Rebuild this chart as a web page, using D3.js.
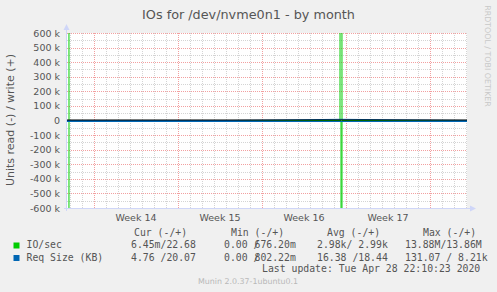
<!DOCTYPE html>
<html>
<head>
<meta charset="utf-8">
<script src="https://cdn.jsdelivr.net/npm/d3@7"></script>
<style>
body { margin: 0; background: #f0f0f0; }
text { font-family: "DejaVu Sans", sans-serif; fill: #555; }
.mono { font-family: "DejaVu Sans Mono", monospace; font-size: 9.8px; }
</style>
</head>
<body>
<script>
// numbers (2h samples, graph clipped at +/-600k)
var ioWriteTimes = ["2020-03-27 18:00", "2020-03-27 20:00", "2020-03-27 22:00", "2020-04-19 12:00", "2020-04-19 14:00", "2020-04-19 16:00", "2020-04-30 02:00"]
var ioWriteValues = [13860000, 13860000, 20, 20, 13860000, 20, 22.68]
var ioReadTimes = ["2020-03-27 18:00", "2020-03-27 20:00", "2020-03-27 22:00", "2020-04-19 14:00", "2020-04-19 15:00", "2020-04-19 16:00", "2020-04-30 02:00"]
var ioReadValues = [13880000, 13880000, 0.5, 0.5, 13880000, 0.5, 0.00645]
var reqTimes = ["2020-03-27 18:00", "2020-04-10 12:00", "2020-04-19 14:00", "2020-04-30 02:00"]
var reqWriteValues = [18, 18.4, 8210, 20.07]
var reqReadValues = [16, 16.4, 131, 4.76]

var yTicks = [-600000, -500000, -400000, -300000, -200000, -100000, 0, 100000, 200000, 300000, 400000, 500000, 600000]
var weekStarts = ["2020-03-30 00:00", "2020-04-06 00:00", "2020-04-13 00:00", "2020-04-20 00:00", "2020-04-27 00:00"]
var weekLabels = ["Week 14", "Week 15", "Week 16", "Week 17"]

var legendHead = ["Cur (-/+)", "Min (-/+)", "Avg (-/+)", "Max (-/+)"]
var legendNames = ["IO/sec", "Req Size (KB)"]
var legendColors = ["#00cc00", "#0066b3"]
var legendCur = ["6.45m/22.68", "4.76 /20.07"]
var legendMin = ["0.00 /", "0.00 /"]
var legendMin2 = ["676.20m", "802.22m"]
var legendAvg = ["2.98k/ 2.99k", "16.38 /18.44"]
var legendMax = ["13.88M/13.86M", "131.07 / 8.21k"]

var width = 497, height = 292
var pad = { left: 67, right: 467, top: 33, bottom: 208 }
var parse = d3.utcParse("%Y-%m-%d %H:%M")
var day = 864e5

var start = parse("2020-03-27 18:00")
var end = new Date(+start + 400 / 12 * day)

var x = d3.scaleUtc().domain([start, end]).range([pad.left, pad.right])
var y = d3.scaleLinear().domain([-600000, 600000]).range([pad.bottom, pad.top])

var svg = d3.select("body").append("svg")
    .attr("width", width).attr("height", height)

svg.append("rect").attr("width", width).attr("height", height).attr("fill", "#f0f0f0")
svg.append("rect")
    .attr("x", pad.left).attr("y", pad.top)
    .attr("width", pad.right - pad.left).attr("height", pad.bottom - pad.top)
    .attr("fill", "#fff")

svg.append("clipPath").attr("id", "clip")
   .append("rect")
   .attr("x", pad.left).attr("y", pad.top)
   .attr("width", pad.right - pad.left).attr("height", pad.bottom - pad.top)

// grid - minor every day / 50k, major every week / 100k
var days = d3.utcDay.range(d3.utcDay.ceil(start), end)
var grid = svg.append("g")
grid.selectAll(".vmin").data(days).enter().append("line")
    .attr("x1", d => Math.round(x(d)) + 0.5).attr("x2", d => Math.round(x(d)) + 0.5)
    .attr("y1", pad.top).attr("y2", pad.bottom)
    .attr("stroke", "#d4d4d4").attr("stroke-dasharray", "1,1")
var halfSteps = d3.range(-550000, 600000, 100000)
grid.selectAll(".hmin").data(halfSteps).enter().append("line")
    .attr("y1", d => Math.round(y(d)) + 0.5).attr("y2", d => Math.round(y(d)) + 0.5)
    .attr("x1", pad.left).attr("x2", pad.right)
    .attr("stroke", "#d4d4d4").attr("stroke-dasharray", "1,1")
grid.selectAll(".vmaj").data(weekStarts.map(parse)).enter().append("line")
    .attr("x1", d => Math.round(x(d)) + 0.5).attr("x2", d => Math.round(x(d)) + 0.5)
    .attr("y1", pad.top).attr("y2", pad.bottom)
    .attr("stroke", "#f2a0a0").attr("stroke-dasharray", "1,1")
grid.selectAll(".hmaj").data(yTicks).enter().append("line")
    .attr("y1", d => Math.round(y(d)) + 0.5).attr("y2", d => Math.round(y(d)) + 0.5)
    .attr("x1", pad.left).attr("x2", pad.right)
    .attr("stroke", "#f2a0a0").attr("stroke-dasharray", "1,1")

// axis lines + arrows
var axisCol = "#cfd6f8"
svg.append("line").attr("x1", pad.left - 0.5).attr("x2", pad.left - 0.5)
    .attr("y1", pad.bottom + 3).attr("y2", pad.top - 4).attr("stroke", axisCol)
svg.append("line").attr("x1", pad.left - 3).attr("x2", pad.right + 4)
    .attr("y1", pad.bottom + 0.5).attr("y2", pad.bottom + 0.5).attr("stroke", axisCol)
svg.append("path")
    .attr("d", `M${pad.left - 3.5},${pad.top - 3} L${pad.left - 0.5},${pad.top - 9} L${pad.left + 2.5},${pad.top - 3} Z`)
    .attr("fill", axisCol)
svg.append("path")
    .attr("d", `M${pad.right + 3},${pad.bottom - 2.5} L${pad.right + 9},${pad.bottom + 0.5} L${pad.right + 3},${pad.bottom + 3.5} Z`)
    .attr("fill", axisCol)

// y tick labels
svg.selectAll(".ylab").data(yTicks).enter().append("text")
    .attr("x", 60).attr("y", d => y(d) + 3.5)
    .attr("text-anchor", "end").attr("font-size", "9.5px")
    .text(d => d == 0 ? "0" : (d / 1000) + " k")

// x labels mid week
svg.selectAll(".xlab").data(weekLabels).enter().append("text")
    .attr("x", (d, i) => x(new Date(+parse(weekStarts[i]) + 3.5 * day)))
    .attr("y", 221)
    .attr("text-anchor", "middle").attr("font-size", "9.5px")
    .text(d => d)

var plot = svg.append("g").attr("clip-path", "url(#clip)")

var line = d3.line().x(d => x(d[0])).y(d => y(d[1]))
var mk = function(times, vals, sign) {
    return times.map((t, i) => [parse(t), sign * vals[i]])
}

plot.append("path").datum(mk(ioReadTimes, ioReadValues, -1))
    .attr("d", line).attr("fill", "none").attr("stroke", "#00cc00").attr("stroke-width", 1)
plot.append("path").datum(mk(ioWriteTimes, ioWriteValues, 1))
    .attr("d", line).attr("fill", "none").attr("stroke", "#00cc00").attr("stroke-width", 1)
plot.append("path").datum(mk(reqTimes, reqWriteValues, 1))
    .attr("d", line).attr("fill", "none").attr("stroke", "#0066b3")
plot.append("path").datum(mk(reqTimes, reqReadValues, -1))
    .attr("d", d3.line().x(d => x(d[0])).y(d => y(d[1]) + 1)).attr("fill", "none").attr("stroke", "#0066b3")

// zero rule on top
plot.append("line").attr("x1", pad.left).attr("x2", pad.right)
    .attr("y1", y(0) - 0.5).attr("y2", y(0) - 0.5)
    .attr("stroke", "#000").attr("stroke-width", 1.2)

// title + side texts
svg.append("text").attr("x", 248.5).attr("y", 18.5)
    .attr("text-anchor", "middle").attr("font-size", "12.8px")
    .text("IOs for /dev/nvme0n1 - by month")
svg.append("text")
    .attr("transform", "translate(14,120) rotate(-90)")
    .attr("text-anchor", "middle").attr("font-size", "11px")
    .text("Units read (-) / write (+)")
svg.append("text")
    .attr("transform", "translate(485,56) rotate(90)")
    .attr("text-anchor", "middle").attr("font-size", "7.9px")
    .style("fill", "#c8c8c8")
    .text("RRDTOOL / TOBI OETIKER")

// legend
var lg = svg.append("g").attr("class", "mono")
var colX = [134, 231, 327, 423]
lg.selectAll(".head").data(legendHead).enter().append("text")
    .attr("class", "mono").attr("x", (d, i) => colX[i]).attr("y", 235.5).text(d => d)
var rowY = [248, 260.5]
legendNames.forEach(function(name, i) {
    lg.append("rect").attr("x", 13.5).attr("y", rowY[i] - 5.5).attr("width", 6).attr("height", 6)
      .attr("fill", legendColors[i])
    lg.append("text").attr("class", "mono").attr("x", 26.5).attr("y", rowY[i]).text(name)
    lg.append("text").attr("class", "mono").attr("x", 131).attr("y", rowY[i]).text(legendCur[i])
    lg.append("text").attr("class", "mono").attr("x", 224).attr("y", rowY[i]).text(legendMin[i])
    lg.append("text").attr("class", "mono").attr("x", 254.5).attr("y", rowY[i]).text(legendMin2[i])
    lg.append("text").attr("class", "mono").attr("x", 317).attr("y", rowY[i]).text(legendAvg[i])
    lg.append("text").attr("class", "mono").attr("x", 405).attr("y", rowY[i]).text(legendMax[i])
})
lg.append("text").attr("class", "mono").attr("x", 262).attr("y", 272)
    .text("Last update: Tue Apr 28 22:10:23 2020")

svg.append("text").attr("x", 248).attr("y", 283.5)
    .attr("text-anchor", "middle").attr("font-size", "7.9px")
    .style("fill", "#b8b8b8")
    .text("Munin 2.0.37-1ubuntu0.1")
</script>
</body>
</html>
